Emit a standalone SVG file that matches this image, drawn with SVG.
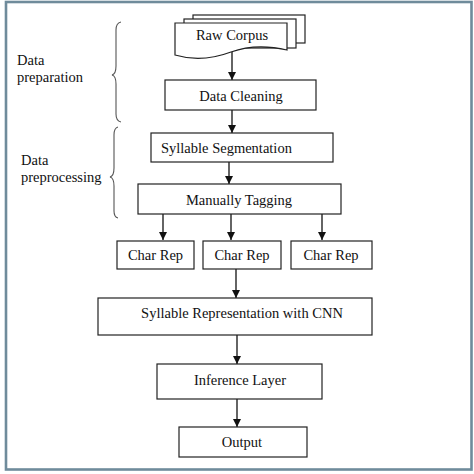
<svg xmlns="http://www.w3.org/2000/svg" width="474" height="474" viewBox="0 0 474 474">
<defs>
<marker id="ah" viewBox="0 0 8 10" refX="8" refY="5" markerWidth="8" markerHeight="10" markerUnits="userSpaceOnUse" orient="auto">
<path d="M0,1 L8,5 L0,9 Z" fill="#111"/>
</marker>
<style>
.box{fill:#fff;stroke:#222;stroke-width:1.2}
.t{font-family:"Liberation Serif","Times New Roman",serif;font-size:14.5px;fill:#111}
.c{text-anchor:middle}
.ln{stroke:#111;stroke-width:1.3;fill:none}
.br{stroke:#555;stroke-width:1.1;fill:none}
</style>
</defs>
<rect x="0" y="0" width="474" height="474" fill="#fff"/>
<rect x="6" y="2" width="465.5" height="467.5" fill="none" stroke="#6f8b9b" stroke-width="2.6"/>

<g id="labels">
<text class="t" x="17" y="65">Data</text>
<text class="t" x="17" y="82">preparation</text>
<text class="t" x="21" y="165">Data</text>
<text class="t" x="21" y="182">preprocessing</text>
<path class="br" d="M121,22 Q116,23 116,30 L116,66 Q116,74 112,75 Q116,76 116,84 L116,114 Q116,121 121,122"/>
<path class="br" d="M118,127 Q114,128 114,135 L114,168 Q114,176 110,177 Q114,178 114,186 L114,211 Q114,217 118,218"/>
</g>

<g id="connectors">
<line class="ln" x1="232" y1="52" x2="232" y2="80" marker-end="url(#ah)"/>
<line class="ln" x1="232" y1="110" x2="232" y2="133" marker-end="url(#ah)"/>
<line class="ln" x1="229" y1="162" x2="229" y2="184" marker-end="url(#ah)"/>
<line class="ln" x1="163" y1="214" x2="163" y2="240" marker-end="url(#ah)"/>
<line class="ln" x1="231" y1="214" x2="231" y2="240" marker-end="url(#ah)"/>
<line class="ln" x1="322" y1="214" x2="322" y2="240" marker-end="url(#ah)"/>
<line class="ln" x1="236" y1="269" x2="236" y2="298" marker-end="url(#ah)"/>
<line class="ln" x1="237" y1="335" x2="237" y2="364" marker-end="url(#ah)"/>
<line class="ln" x1="237" y1="399" x2="237" y2="427" marker-end="url(#ah)"/>
</g>

<g id="raw-corpus">
<rect class="box" x="193" y="15" width="112" height="28"/>
<rect class="box" x="184" y="19" width="112" height="29"/>
<path class="box" d="M175,23 H287 V50 C270,46 250,45 231,52 C215,58 195,61 175,55 Z"/>
<text class="t c" x="232" y="40">Raw Corpus</text>
</g>

<g id="data-cleaning">
<rect class="box" x="165" y="80" width="151" height="30"/>
<text class="t c" x="241" y="101">Data Cleaning</text>
</g>

<g id="syllable-segmentation">
<rect class="box" x="151" y="133" width="182" height="29"/>
<text class="t" x="161" y="153">Syllable Segmentation</text>
</g>

<g id="manually-tagging">
<rect class="box" x="138" y="184" width="203" height="30"/>
<text class="t c" x="239" y="205">Manually Tagging</text>
</g>

<g id="char-rep-1">
<rect class="box" x="117" y="241" width="77" height="28"/>
<text class="t c" x="155.5" y="260">Char Rep</text>
</g>
<g id="char-rep-2">
<rect class="box" x="203" y="241" width="78" height="28"/>
<text class="t c" x="242" y="260">Char Rep</text>
</g>
<g id="char-rep-3">
<rect class="box" x="291" y="241" width="81" height="28"/>
<text class="t c" x="331" y="260">Char Rep</text>
</g>

<g id="syllable-representation">
<rect class="box" x="98" y="298" width="274" height="37"/>
<text class="t c" x="242" y="318">Syllable Representation with CNN</text>
</g>

<g id="inference-layer">
<rect class="box" x="157" y="364" width="165" height="35"/>
<text class="t c" x="240" y="385">Inference Layer</text>
</g>

<g id="output">
<rect class="box" x="179" y="427" width="128" height="30"/>
<text class="t c" x="242" y="447">Output</text>
</g>
</svg>
